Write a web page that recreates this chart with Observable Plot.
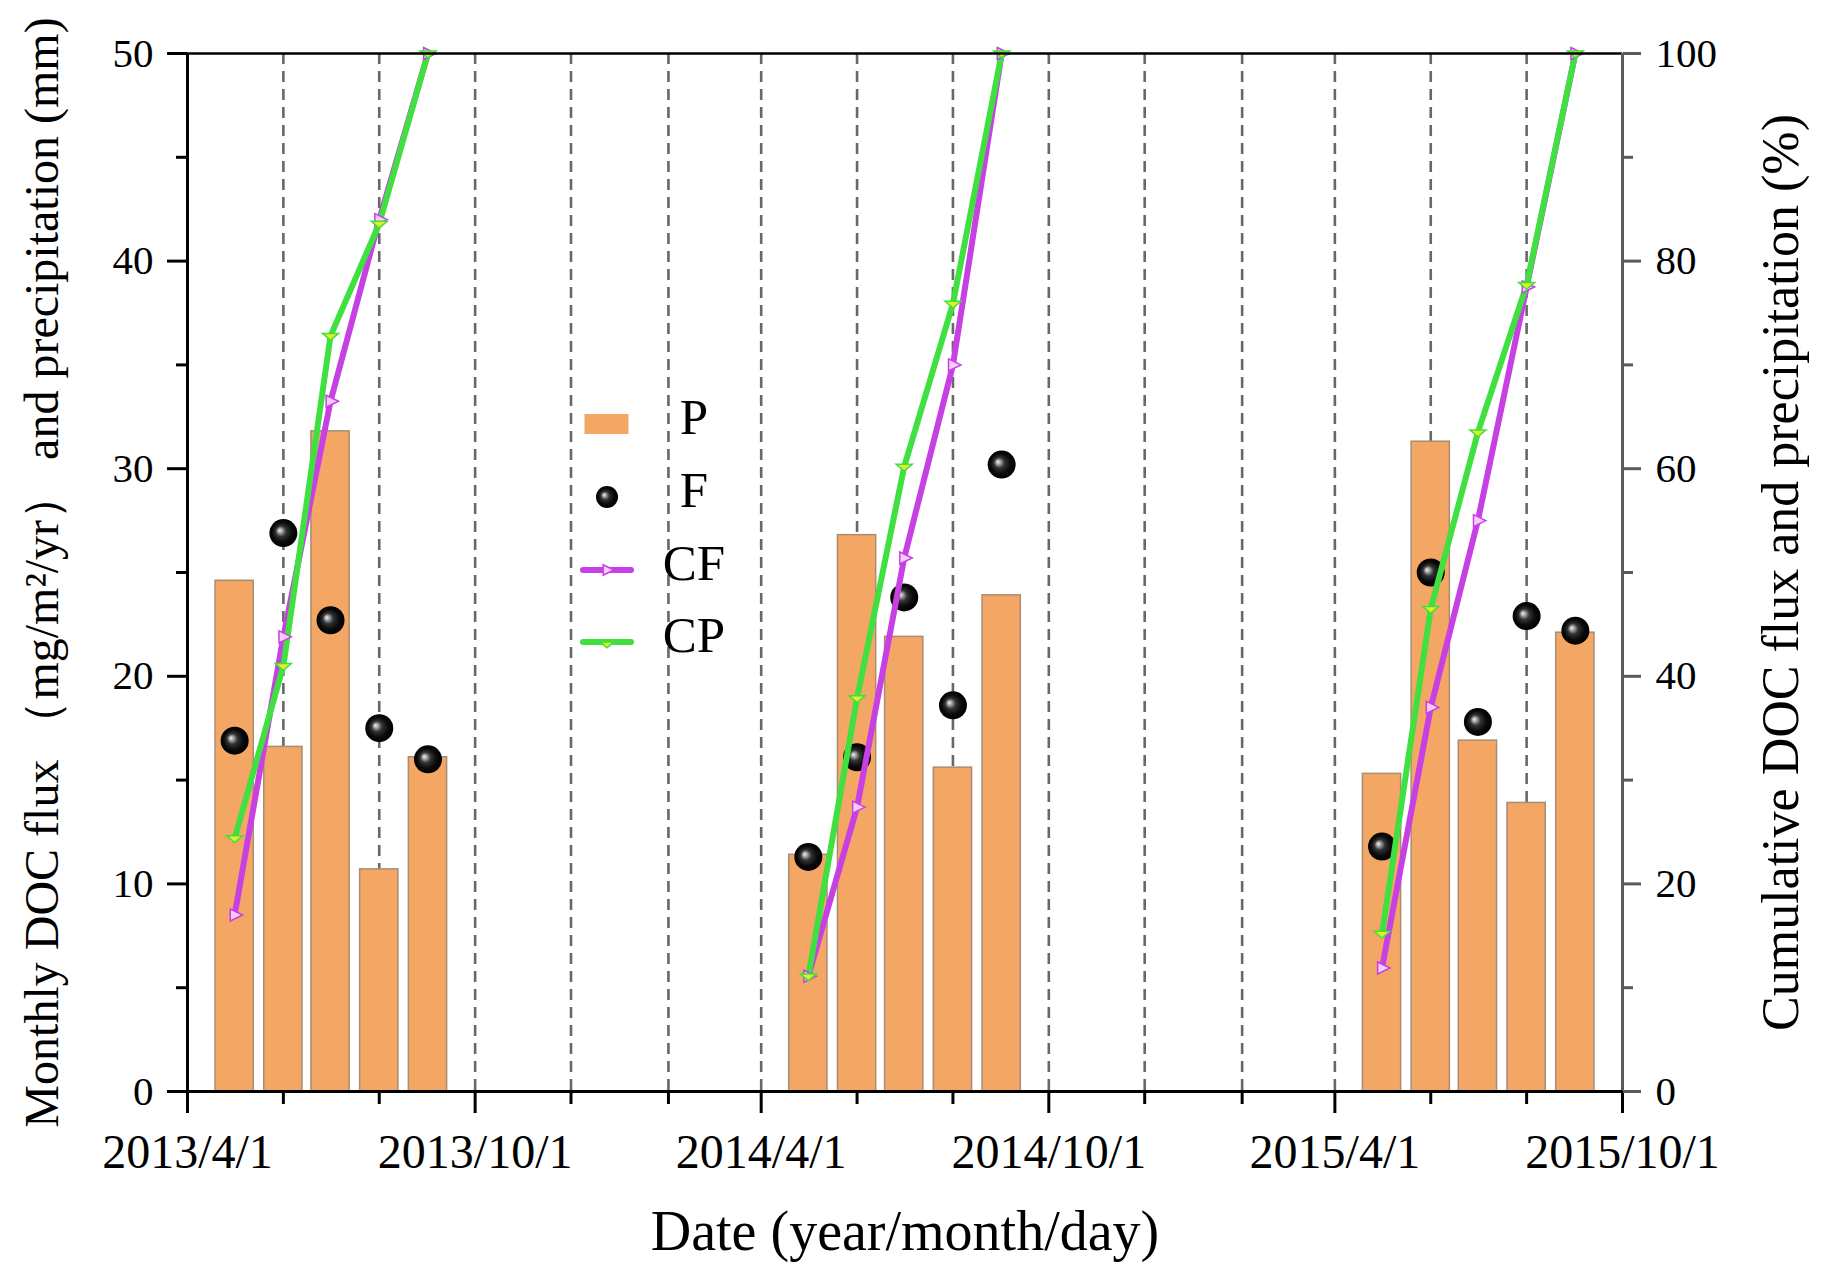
<!DOCTYPE html>
<html>
<head>
<meta charset="utf-8">
<script src="https://cdn.jsdelivr.net/npm/d3@7"></script>
<script src="https://cdn.jsdelivr.net/npm/@observablehq/plot@0.6"></script>
<style>
  html, body { margin: 0; padding: 0; background: #ffffff; }
  #chart svg { display: block; }
</style>
</head>
<body>
<div id="chart"></div>
<script>
// ---------- data ----------
const months = [
  "2013-05-01", "2013-06-01", "2013-07-01", "2013-08-01", "2013-09-01",
  "2014-05-01", "2014-06-01", "2014-07-01", "2014-08-01", "2014-09-01",
  "2015-05-01", "2015-06-01", "2015-07-01", "2015-08-01", "2015-09-01"
];
// P: monthly precipitation (mm), left axis
const P  = [24.6, 16.6, 31.8, 10.7, 16.1,  11.4, 26.8, 21.9, 15.6, 23.9,  15.3, 31.3, 16.9, 13.9, 22.1];
// F: monthly DOC flux (mg/m2/yr), left axis
const F  = [16.9, 26.9, 22.7, 17.5, 16.0,  11.3, 16.1, 23.8, 18.6, 30.2,  11.8, 25.0, 17.8, 22.9, 22.2];
// CF: cumulative DOC flux (%), right axis
const CF = [17.0, 43.8, 66.5, 84.0, 100,   11.1, 27.4, 51.4, 70.0, 100,   11.9, 37.0, 55.0, 77.5, 100];
// CP: cumulative precipitation (%), right axis
const CP = [24.4, 41.0, 72.8, 83.6, 100,   11.1, 37.9, 60.2, 75.9, 100,   15.2, 46.5, 63.5, 77.7, 100];

const xDomain = ["2013-04-01", "2015-10-01"];
const xMajorTicks = ["2013-04-01", "2013-10-01", "2014-04-01", "2014-10-01", "2015-04-01", "2015-10-01"];
const xMinorTicks = ["2013-06-01", "2013-08-01", "2013-12-01", "2014-02-01", "2014-06-01", "2014-08-01",
                     "2014-12-01", "2015-02-01", "2015-06-01", "2015-08-01"];
const gridDates = ["2013-06-01", "2013-08-01", "2013-10-01", "2013-12-01", "2014-02-01", "2014-04-01",
                   "2014-06-01", "2014-08-01", "2014-10-01", "2014-12-01", "2015-02-01", "2015-04-01",
                   "2015-06-01", "2015-08-01"];
const leftTicks = [0, 10, 20, 30, 40, 50];
const leftMinor = [5, 15, 25, 35, 45];
const rightTicks = [0, 20, 40, 60, 80, 100];
const rightMinor = [10, 30, 50, 70, 90];
const legendLabels = ["P", "F", "CF", "CP"];
const xTitle = "Date (year/month/day)";
const yLeftTitle = "Monthly DOC flux （mg/m²/yr） and precipitation (mm)";
const yRightTitle = "Cumulative DOC flux and precipitation (%)";

// ---------- helpers ----------
const parse = s => new Date(s + "T00:00:00Z");
const rows = months.map((m, i) => ({
  date: parse(m), year: m.slice(0, 4), p: P[i], f: F[i], cf: CF[i], cp: CP[i]
}));
const pctToLeft = v => v * 50 / 100;           // right axis (0-100 %) shares the left scale (0-50)
const fmtDate = d => `${d.getUTCFullYear()}/${d.getUTCMonth() + 1}/${d.getUTCDate()}`;
const noLabel = () => "";

const barFill = "#F4A764";
const barStroke = "#A88C74";
const cfColor = "#C740E3";
const cpColor = "#3FE03F";
const FONT = "Liberation Serif, Times New Roman, serif";

const triRight = {
  draw(ctx, size) {
    const r = Math.sqrt(size / Math.PI);
    ctx.moveTo(r, 0);
    ctx.lineTo(-r * 0.55, -r * 0.75);
    ctx.lineTo(-r * 0.55, r * 0.75);
    ctx.closePath();
  }
};
const triDown = {
  draw(ctx, size) {
    const r = Math.sqrt(size / Math.PI);
    ctx.moveTo(-r, -r * 0.3);
    ctx.lineTo(r, -r * 0.3);
    ctx.lineTo(0, r * 0.55);
    ctx.closePath();
  }
};

function gradientDefs() {
  const defs = d3.create("svg:defs");
  const g = defs.append("radialGradient").attr("id", "sphereGrad")
    .attr("cx", "0.5").attr("cy", "0.5").attr("r", "0.5")
    .attr("fx", "0.36").attr("fy", "0.4");
  [[0, "#f4f4f4"], [0.14, "#b0b0b0"], [0.38, "#333333"], [0.7, "#0b0b0b"], [1, "#000000"]]
    .forEach(([o, c]) => g.append("stop").attr("offset", o).attr("stop-color", c));
  return defs.node();
}

function legendMark() {
  const g = d3.create("svg:g").attr("font-family", FONT).attr("font-size", 51).attr("fill", "black");
  const ys = [424, 497, 570, 642];
  const xs = 607;
  g.append("rect").attr("x", xs - 22).attr("y", ys[0] - 9.5).attr("width", 43).attr("height", 19)
    .attr("fill", barFill).attr("stroke", barFill).attr("stroke-width", 1);
  g.append("circle").attr("cx", xs).attr("cy", ys[1]).attr("r", 11).attr("fill", "url(#sphereGrad)");
  g.append("line").attr("x1", xs - 24).attr("x2", xs + 24).attr("y1", ys[2]).attr("y2", ys[2])
    .attr("stroke", cfColor).attr("stroke-width", 6).attr("stroke-linecap", "round");
  g.append("path").attr("transform", `translate(${xs},${ys[2]})`)
    .attr("d", d3.symbol(triRight, Math.PI * 49)()).attr("fill", "#f6cdfa").attr("stroke", cfColor).attr("stroke-width", 1.5);
  g.append("line").attr("x1", xs - 24).attr("x2", xs + 24).attr("y1", ys[3]).attr("y2", ys[3])
    .attr("stroke", cpColor).attr("stroke-width", 6).attr("stroke-linecap", "round");
  g.append("path").attr("transform", `translate(${xs},${ys[3] + 2})`)
    .attr("d", d3.symbol(triDown, Math.PI * 49)()).attr("fill", "#e4ee22").attr("stroke", cpColor).attr("stroke-width", 1.5);
  legendLabels.forEach((t, i) => {
    g.append("text").attr("x", 694).attr("y", ys[i] + 10).text(t);
  });
  return g.node();
}

const chart = Plot.plot({
  width: 1830,
  height: 1280,
  marginLeft: 187,
  marginRight: 208,
  marginTop: 53,
  marginBottom: 189,
  style: { fontFamily: FONT, background: "#ffffff", color: "black", overflow: "visible" },
  x: { type: "utc", domain: xDomain.map(parse) },
  y: { domain: [0, 50] },
  marks: [
    gradientDefs,
    Plot.ruleX(gridDates.map(parse), { stroke: "#686868", strokeWidth: 2.6, strokeDasharray: "11,7" }),
    Plot.rect(rows, {
      x1: d => d3.utcHour.offset(d.date, -292),
      x2: d => d3.utcHour.offset(d.date, 292),
      y1: 0, y2: "p",
      fill: barFill, stroke: barStroke, strokeWidth: 1.5
    }),
    Plot.dot(rows, { x: "date", y: "f", r: 14, fill: "url(#sphereGrad)" }),
    Plot.line(rows, { x: "date", y: d => pctToLeft(d.cf), z: "year", stroke: cfColor, strokeWidth: 6, strokeLinejoin: "round" }),
    Plot.line(rows, { x: "date", y: d => pctToLeft(d.cp), z: "year", stroke: cpColor, strokeWidth: 6, strokeLinejoin: "round" }),
    Plot.dot(rows, { x: "date", y: d => pctToLeft(d.cf), symbol: triRight, r: 8, fill: "#f6cdfa", stroke: cfColor, strokeWidth: 1.5 }),
    Plot.dot(rows, { x: "date", y: d => pctToLeft(d.cp), symbol: triDown, r: 8, fill: "#e4ee22", stroke: cpColor, strokeWidth: 1.5 }),
    Plot.ruleY([50], { stroke: "black", strokeWidth: 2.5 }),
    Plot.ruleX([parse(xDomain[1])], { stroke: "#5a5a5a", strokeWidth: 3 }),
    Plot.ruleY([0], { stroke: "black", strokeWidth: 3 }),
    Plot.ruleX([parse(xDomain[0])], { stroke: "black", strokeWidth: 3 }),
    Plot.axisX({ ticks: xMajorTicks.map(parse), tickFormat: fmtDate, tickSize: 22, tickPadding: 20,
                 fontSize: 48, strokeWidth: 3, label: null }),
    Plot.axisX({ ticks: xMinorTicks.map(parse), tickFormat: noLabel, tickSize: 13, strokeWidth: 3, label: null }),
    Plot.axisY({ anchor: "left", ticks: leftTicks, tickSize: 20, tickPadding: 14, fontSize: 41,
                 strokeWidth: 3, label: null }),
    Plot.axisY({ anchor: "left", ticks: leftMinor, tickFormat: noLabel, tickSize: 11, strokeWidth: 3, label: null }),
    Plot.axisY({ anchor: "right", ticks: rightTicks.map(pctToLeft), tickFormat: d => d * 2,
                 tickSize: 18, tickPadding: 15, fontSize: 41, stroke: "#5a5a5a", strokeWidth: 3, label: null }),
    Plot.axisY({ anchor: "right", ticks: rightMinor.map(pctToLeft), tickFormat: noLabel, tickSize: 10,
                 stroke: "#5a5a5a", strokeWidth: 3, label: null }),
    Plot.text([xTitle], { text: d => d, frameAnchor: "bottom", dy: 141, lineAnchor: "middle", textAnchor: "middle",
                          fontSize: 56, fill: "black" }),
    Plot.text([yLeftTitle], { text: d => d, frameAnchor: "left", dx: -145, rotate: -90, lineAnchor: "middle",
                              textAnchor: "middle", fontSize: 48, fill: "black" }),
    Plot.text([yRightTitle], { text: d => d, frameAnchor: "right", dx: 159, rotate: -90, lineAnchor: "middle",
                               textAnchor: "middle", fontSize: 52, fill: "black" }),
    legendMark
  ]
});
document.getElementById("chart").appendChild(chart);
</script>
</body>
</html>
